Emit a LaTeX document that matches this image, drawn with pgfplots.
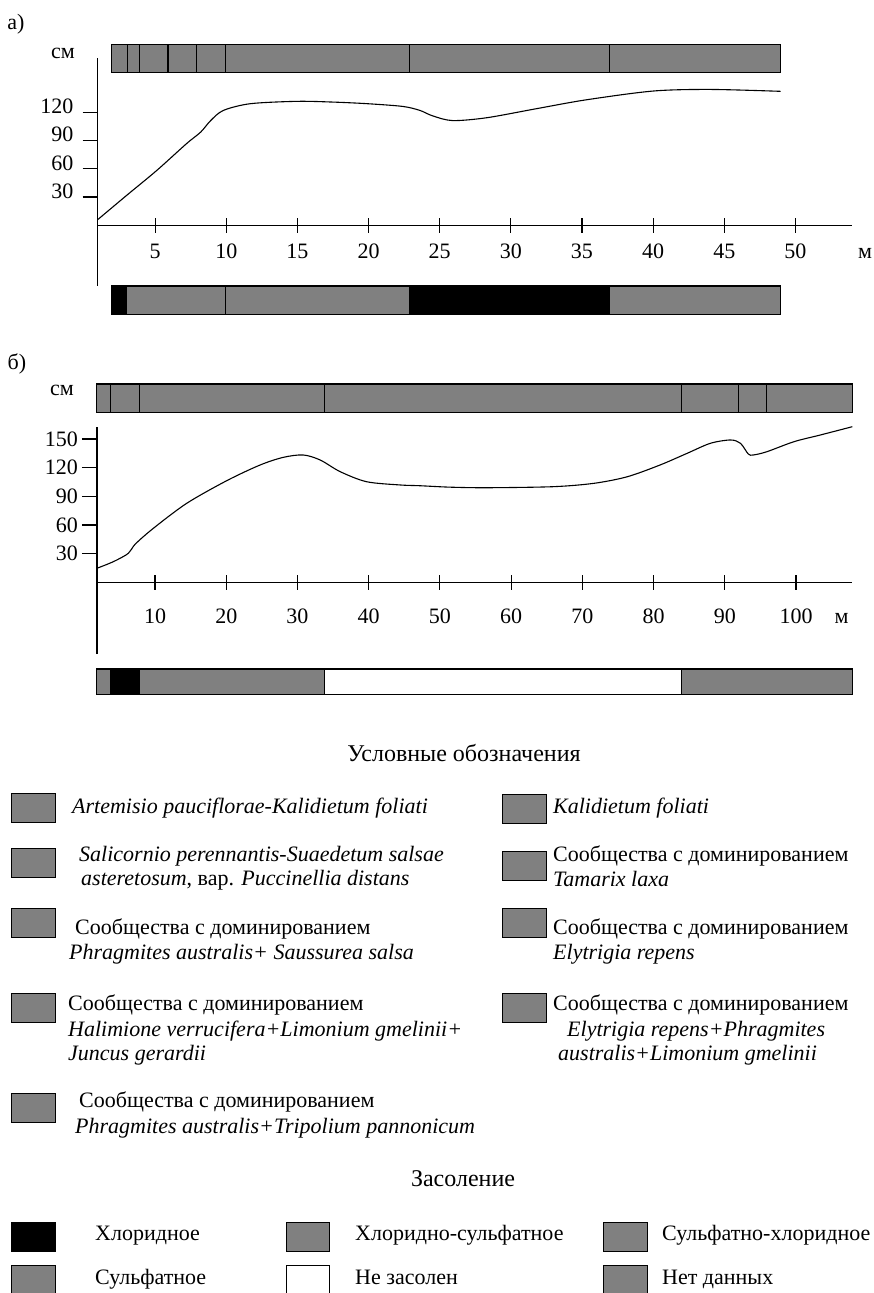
\documentclass[border=0pt]{standalone}
\usepackage{pgfplots}
\pgfplotsset{compat=1.18}
\usepackage{fontspec}
\setmainfont{Liberation Serif}
\definecolor{barg}{RGB}{128,128,128}
\newcommand{\segm}[5]{\addplot[draw=black, line width=1.1pt, fill=#5] coordinates {(#1,#3) (#2,#3) (#2,#4) (#1,#4)} --cycle;}
\begin{document}
\fontsize{22}{26}\selectfont
\begin{tikzpicture}
\useasboundingbox (0pt,0pt) rectangle (873pt,-1293pt);
\pgfplotsset{
  prof/.style={
    scale only axis, clip=false,
    axis x line=middle, axis y line=left,
    axis line style={-, line width=1.1pt},
    tick align=center, major tick length=15pt,
    tick style={line width=1.1pt, black},
    y tick style={xshift=-7.5pt},
    /pgf/number format/assume math mode=true,
    tick label style={font=\fontsize{22}{26}\selectfont},
  },
}
% ---------- a)
\begin{axis}[prof, at={(97.7pt,-285.7pt)}, anchor=south west,
  width=754.6pt, height=227.4pt,
  xmin=0.96, xmax=54, ymin=-64, ymax=177,
  xtick={5,10,...,50}, ytick={30,60,90,120},
  xticklabel style={anchor=base, yshift=-25.5pt},
  yticklabel style={anchor=base east, xshift=-9.3pt, yshift=-1.6pt},
]
\addplot[black, line width=1.1pt, smooth] coordinates {
(0.96,6) (3.0,31.8) (5.1,58) (7.2,86.5) (8.2,98.8) (8.9,111) (9.8,121.8) (11.7,128.9) (15,131.4) (17.5,130.6) (19.9,128.9) (22.4,126) (23.6,121.8) (24.5,116) (25.9,111) (28.3,114) (31.8,123.6) (35.3,133) (40,142.3) (44,144) (48.96,142)};
% top bar
\segm{1.9}{3.05}{162}{192}{barg}
\segm{3.05}{3.9}{162}{192}{barg}
\segm{3.9}{5.9}{162}{192}{barg}
\segm{5.9}{7.9}{162}{192}{barg}
\segm{7.9}{9.95}{162}{192}{barg}
\segm{9.95}{22.9}{162}{192}{barg}
\segm{22.9}{36.95}{162}{192}{barg}
\segm{36.95}{48.95}{162}{192}{barg}
% bottom bar
\segm{1.9}{2.96}{-64.3}{-94.6}{black}
\segm{2.96}{9.95}{-64.3}{-94.6}{barg}
\segm{9.95}{22.9}{-64.3}{-94.6}{barg}
\segm{22.9}{36.95}{-64.3}{-94.6}{black}
\segm{36.95}{48.95}{-64.3}{-94.6}{barg}
\node[anchor=base] at (axis cs:54,0) [xshift=12.7pt, yshift=-33pt] {м};
\end{axis}
% ---------- b)
\begin{axis}[prof, at={(97pt,-654pt)}, anchor=south west,
  width=755.3pt, height=227.3pt,
  xmin=1.85, xmax=107.9, ymin=-75.1, ymax=162.9,
  xtick={10,20,...,100}, ytick={30,60,90,120,150},
  xticklabel style={anchor=base, yshift=-33.5pt},
  yticklabel style={anchor=east, xshift=-4pt},
]
\addplot[black, line width=1.1pt, smooth] coordinates {
(1.85,14.7) (4.15,21.6) (6.25,30.3) (7.2,39.8) (9.76,56.5) (14.45,82.7) (20.07,106.4) (24.75,122.8) (28,130.8) (30.8,133.3) (33.2,128) (36,115.8) (39.7,105.3) (44.4,101.9) (47.2,101.1) (51.4,99.6) (56.6,99) (65.9,100.1) (71.6,103.6) (76.3,110.5) (80.9,122.8) (84.7,135) (87.96,145.5) (90.8,149) (92.2,145.5) (93.3,134.3) (94,133.3) (95.9,136.7) (99.7,147.2) (103.4,154.2) (107.9,162.9)};
\segm{1.8}{3.8}{178}{207.6}{barg}
\segm{3.8}{7.8}{178}{207.6}{barg}
\segm{7.8}{33.8}{178}{207.6}{barg}
\segm{33.8}{83.9}{178}{207.6}{barg}
\segm{83.9}{91.9}{178}{207.6}{barg}
\segm{91.9}{95.9}{178}{207.6}{barg}
\segm{95.9}{107.9}{178}{207.6}{barg}
\segm{1.8}{3.8}{-90.8}{-117.2}{barg}
\segm{3.8}{7.8}{-90.8}{-117.2}{black}
\segm{7.8}{33.8}{-90.8}{-117.2}{barg}
\segm{33.8}{83.9}{-90.8}{-117.2}{white}
\segm{83.9}{107.9}{-90.8}{-117.2}{barg}
\node[anchor=base] at (axis cs:107.9,0) [xshift=-10.6pt, yshift=-41pt] {м};
\end{axis}
% ---------- labels and legend
\begin{scope}[x=1pt, y=-1pt]
\node[anchor=base] at (16,29) {а)};
\node[anchor=base] at (17,369) {б)};
\node[anchor=base] at (63,58) {см};
\node[anchor=base] at (62,395) {см};
\node[anchor=base, font=\fontsize{24}{28}\selectfont] at (464,761) {Условные обозначения};
\tikzset{lb/.style={draw=black, line width=1pt}}
\draw[lb, fill=barg] (11,793) rectangle (55,822);
\draw[lb, fill=barg] (502,794) rectangle (546,823);
\draw[lb, fill=barg] (11,848) rectangle (55,877);
\draw[lb, fill=barg] (502,851) rectangle (546,880);
\draw[lb, fill=barg] (11,908) rectangle (55,937);
\draw[lb, fill=barg] (502,908) rectangle (546,937);
\draw[lb, fill=barg] (11,993) rectangle (55,1022);
\draw[lb, fill=barg] (502,993) rectangle (546,1022);
\draw[lb, fill=barg] (11,1093) rectangle (55,1122);
\node[anchor=base west, inner sep=0pt] at (72,813) {\itshape Artemisio pauciflorae-Kalidietum foliati};
\node[anchor=base west, inner sep=0pt] at (553,813) {\itshape Kalidietum foliati};
\node[anchor=base west, inner sep=0pt] at (79,861) {\itshape Salicornio perennantis-Suaedetum salsae};
\node[anchor=base west, inner sep=0pt] at (81,885) {\textit{asteretosum}, вар. \textit{Puccinellia distans}};
\node[anchor=base west, inner sep=0pt] at (553,861) {Сообщества с доминированием};
\node[anchor=base west, inner sep=0pt] at (553,886) {\itshape Tamarix laxa};
\node[anchor=base west, inner sep=0pt] at (75,934) {Сообщества с доминированием};
\node[anchor=base west, inner sep=0pt] at (69,959) {\itshape Phragmites australis+ Saussurea salsa};
\node[anchor=base west, inner sep=0pt] at (553,934) {Сообщества с доминированием};
\node[anchor=base west, inner sep=0pt] at (553,959) {\itshape Elytrigia repens};
\node[anchor=base west, inner sep=0pt] at (68,1010) {Сообщества с доминированием};
\node[anchor=base west, inner sep=0pt] at (68,1036) {\itshape Halimione verrucifera+Limonium gmelinii+};
\node[anchor=base west, inner sep=0pt] at (68,1060) {\itshape Juncus gerardii};
\node[anchor=base west, inner sep=0pt] at (553,1010) {Сообщества с доминированием};
\node[anchor=base west, inner sep=0pt] at (567,1036) {\itshape Elytrigia repens+Phragmites};
\node[anchor=base west, inner sep=0pt] at (558,1060) {\itshape australis+Limonium gmelinii};
\node[anchor=base west, inner sep=0pt] at (79,1107) {Сообщества с доминированием};
\node[anchor=base west, inner sep=0pt] at (75,1133) {\itshape Phragmites australis+Tripolium pannonicum};
\node[anchor=base, font=\fontsize{24}{28}\selectfont] at (463,1186) {Засоление};
\draw[lb, fill=black] (11,1222) rectangle (55,1251);
\draw[lb, fill=barg] (286,1222) rectangle (329,1251);
\draw[lb, fill=barg] (603,1222) rectangle (647,1251);
\draw[lb, fill=barg] (11,1265) rectangle (55,1294);
\draw[lb, fill=white] (286,1265) rectangle (329,1294);
\draw[lb, fill=barg] (603,1265) rectangle (647,1294);
\node[anchor=base west, inner sep=0pt] at (95,1240) {Хлоридное};
\node[anchor=base west, inner sep=0pt] at (355,1240) {Хлоридно-сульфатное};
\node[anchor=base west, inner sep=0pt] at (662,1240) {Сульфатно-хлоридное};
\node[anchor=base west, inner sep=0pt] at (95,1284) {Сульфатное};
\node[anchor=base west, inner sep=0pt] at (355,1284) {Не засолен};
\node[anchor=base west, inner sep=0pt] at (662,1284) {Нет данных};
\end{scope}
\end{tikzpicture}
\end{document}
